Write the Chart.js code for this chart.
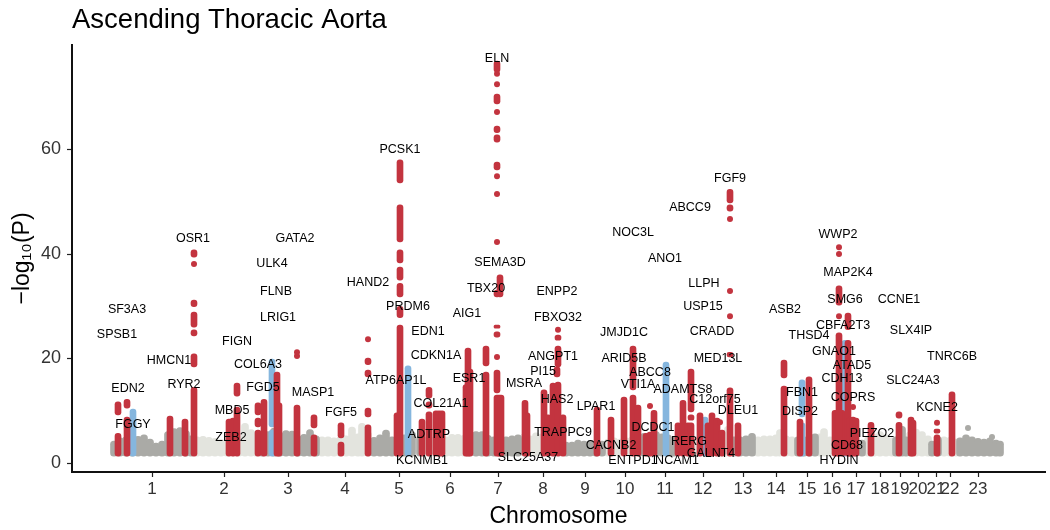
<!DOCTYPE html>
<html><head><meta charset="utf-8">
<style>html,body{margin:0;padding:0;background:#fff}canvas{display:block}</style>
<script src="https://cdn.jsdelivr.net/npm/chart.js@4"></script>
</head><body><canvas id="c" width="1050" height="530"></canvas>
<script>
const chromosomeNames = ['1','2','3','4','5','6','7','8','9','10','11','12','13','14','15','16','17','18','19','20','21','22','23'];
const chromosomeTicks = [152,224,288,345,399,450,498,543,585,625,665,703,743,776,807,832,856,880,900,918,936,950,978];
const yTickValues = [0,20,40,60];
const baseValue = 1.3;

// [genome position, top of the non-significant cloud] per chromosome
const darkCloud = [
 [114,4.2],[120,4.8],[126,5],[132,4.9],[138,5.1],[144,5.4],[150,4.6],[156,3.8],[162,4.2],[168,6],[174,6.6],[180,6.8],[186,6.2],[191,5.2],
 [262,5.5],[268,6],[274,6.7],[280,5.8],[286,6.2],[292,6.1],[298,5.2],[304,5.5],[310,6.4],[316,5.2],
 [374,4.9],[380,5.4],[386,6.3],[392,5],[398,5.2],[404,5.4],[412,6],[420,5.2],
 [476,6],[482,6],[488,5.3],[494,5],[500,5],[506,5],[512,5.2],[518,5.4],
 [566,4],[572,4],[578,4.4],[584,4.2],[590,4.3],[596,4.2],[602,4.2],
 [644,5.7],[650,5.8],[656,6],[662,5.6],[668,5.4],[674,5],
 [734,5],[740,5],[746,5.2],[752,5.7],
 [798,5],[804,5],[810,5.4],[815,5.6],
 [850,4.2],[856,4.2],[862,4.4],
 [896,5],[902,7],[906,5],
 [932,4.2],[938,5],
 [960,4.8],[966,5.4],[972,5],[978,4.7],[984,4.6],[990,4.8],[996,4.4],[1000,4.2]
];
const paleCloud = [
 [197,5],[203,5.1],[209,4.9],[215,4.7],[221,4.5],[227,4.6],[233,5],[239,5.3],[245,7.6],[251,6.4],[256,6],
 [322,5],[328,5],[334,4.8],[340,5],[346,5.2],[352,6.9],[358,5.6],[362,7.6],[368,6],
 [428,5],[434,4.9],[440,4.9],[446,5],[452,5.5],[458,5.5],[464,5.3],[470,5],
 [524,5.6],[530,5.2],[536,5.8],[542,5.6],[548,5.5],[554,6],[560,5.5],
 [608,4.6],[614,4.8],[620,4.6],[626,4.8],[632,5],[638,5],
 [680,5],[686,5],[692,5],[698,5],[704,5],[710,5],[716,5],[722,5.8],[728,7],
 [758,5],[764,5.2],[770,5.2],[776,5.4],[780,6.4],[786,5.2],[792,5],
 [820,5.6],[824,6.6],[830,5],
 [868,5],[874,5.6],[880,6],[886,5.4],[892,4.8],
 [910,6],[916,6.5],[922,6],[928,5.2],
 [944,5],[950,4.9],[956,4.6]
];
const darkDots = [[968,6.7],[992,5]];

// [position, low, high] runs of significant variants
const blueRuns = [
 [133,1.3,10.3],[272,1.3,6.3],[272,6.9,19.9],[408,1.3,18.6],[666,1.3,19.3],[705,1.3,8.8],
 [802,1.3,7.7],[802,8.8,15.9],[845,1.3,23.5]
];
const redRuns = [
 [118,1.3,5.7],[118,9.2,11.7],[127,1.3,8.8],[127,10.5,12.2],[170,1.3,9],[185,1.3,8.4],
 [194,1.3,14.5],[194,18.4,20.9],[194,24.3,25.5],[194,26,28.9],[194,29.9,31.2],[194,39.4,40.8],
 [229,1.3,8.4],[233,1.3,8.6],[237,1.3,10.7],[237,12.8,15.3],
 [258,1.3,6.3],[258,6.9,8.6],[258,9.2,11.5],[264,1.3,12.2],[277,1.3,17.4],[279,1.3,11.5],
 [297,1.3,11.1],[314,6.7,9.2],[314,1.3,5.4],[341,4.8,7.7],[341,1.3,4],
 [368,1.3,7.3],[368,8.8,10.5],[368,16.5,17.8],[368,18.8,20.1],
 [397,1.3,9.6],[400,1.3,26.4],[400,27.8,30],[400,31.8,34.4],[400,35,37.5],[400,38.3,40.8],[400,42.3,49.4],[400,53.6,58],
 [422,1.3,8.4],[429,1.3,9.8],[429,10.5,11.7],[429,12.4,14.5],[436,1.3,10],[439,1.3,10],[442,1.3,10],
 [466,1.3,15],[468,1.3,22],[470,1.3,18],[486,1.3,17.4],[486,18.6,22.4],
 [497,1.3,13],[497,13.4,17.8],[497,24.1,25.1],[497,25.8,26.4],[497,31.8,33.1],[497,56.1,57.6],[497,61.4,62.8],[497,63.2,64.5],[497,68.7,70.6],[497,74.8,76.9],
 [499,1.3,13],[501,1.3,13],[500,31.8,36],
 [525,1.3,12],[527,1.3,9.6],[544,1.3,14],[548,1.3,9.2],[553,1.3,15.3],[558,1.3,15.5],[557,16.5,18.4],[558,18.4,22.4],[558,23.5,24.5],[563,1.3,9.2],
 [597,1.3,10.7],[611,1.3,8.8],[624,1.3,12.6],[633,1.3,13],[633,14,22.4],[638,1.3,11.1],
 [646,1.3,5.7],[650,1.3,5.9],[654,1.3,10.1],[678,1.3,7.7],[683,1.3,12],[688,1.3,7.7],
 [691,1.3,7.7],[691,8.2,9.2],[691,9.8,18],[700,1.3,9.6],[708,1.3,7.7],[712,1.3,9.6],[717,1.3,8.6],[722,1.3,6.3],
 [730,1.3,14.4],[730,20.3,21.2],[730,49.8,52.4],[730,48.2,49.4],[738,1.3,7.7],
 [784,1.3,14.7],[784,16.3,19.7],[800,1.3,8.4],[809,1.3,16.5],
 [835,1.3,10.1],[838,1.3,10.1],[842,1.3,10.1],[839,1.3,24.9],[839,30.2,33.9],
 [848,1.3,23.5],[848,25.5,28.7],[850,1.3,8.8],[853,1.3,8.8],[856,1.3,8.6],
 [871,1.3,7.8],[899,1.3,7.8],[899,8.6,9.8],[911,1.3,8.8],[913,1.3,8.2],
 [937,1.3,5.4],[937,5.7,6.5],[952,1.3,13.6]
];
const redDots = [
 [194,38.1],[297,20.5],[297,21.2],[368,23.7],
 [497,74.5],[497,72.5],[497,67.2],[497,54.9],[497,51.5],[497,42.3],[497,20.3],
 [558,25.5],[650,10.9],[720,7.8],[730,28.1],[730,32.9],[730,46.7],
 [839,28.1],[839,40],[839,41.3],[853,10.7],[937,7.7]
];

// [gene, position, height]
const geneLabels = [
 ['ELN',497,77.5],['PCSK1',400,59.9],['FGF9',730,54.4],['ABCC9',690,48.8],['NOC3L',633,44.2],['OSR1',193,42.9],['GATA2',295,42.9],
 ['WWP2',838,43.8],['ULK4',272,38.1],['ANO1',665,39.2],['SEMA3D',500,38.3],['MAP2K4',848,36.4],['HAND2',368,34.6],['FLNB',276,32.9],
 ['TBX20',486,33.3],['ENPP2',557,32.9],['LLPH',704,34.3],['CCNE1',899,31.2],['SF3A3',127,29.3],['USP15',703,29.9],['AIG1',467,28.7],
 ['PRDM6',408,29.9],['SMG6',845,31.2],['ASB2',785,29.3],['SPSB1',117,24.5],['LRIG1',278,27.9],['CBFA2T3',843,26.4],['EDN1',428,25.1],
 ['FBXO32',558,27.9],['JMJD1C',624,24.9],['CRADD',712,25.1],['SLX4IP',911,25.3],['THSD4',809,24.3],['FIGN',237,23.3],['CDKN1A',436,20.5],
 ['ANGPT1',553,20.3],['ARID5B',624,19.9],['MED13L',718,19.9],['GNAO1',834,21.4],['TNRC6B',952,20.3],['HMCN1',169,19.7],['COL6A3',258,18.8],
 ['ABCC8',650,17.4],['PI15',543,17.6],['ATAD5',852,18.6],['MSRA',524,15.3],['ATP6AP1L',396,15.7],['ESR1',469,16.1],['VTI1A',638,15.1],
 ['CDH13',842,16.1],['SLC24A3',913,15.7],['EDN2',128,14.2],['RYR2',184,15.1],['FGD5',263,14.4],['MASP1',313,13.4],['ADAMTS8',683,14],
 ['C12orf75',715,12.2],['HAS2',557,12.1],['COL21A1',441,11.3],['LPAR1',596,10.9],['FBN1',802,13.4],['COPRS',853,12.6],['KCNE2',937,10.7],
 ['DISP2',800,9.8],['DLEU1',738,10.1],['MBD5',232,10],['FGF5',341,9.6],['FGGY',133,7.3],['DCDC1',653,6.7],['TRAPPC9',563,5.9],
 ['PIEZO2',872,5.7],['ADTRP',429,5.4],['ZEB2',231,4.8],['RERG',689,4.2],['CACNB2',611,3.3],['CD68',847,3.3],['GALNT4',711,1.9],
 ['SLC25A37',528,1],['KCNMB1',422,0.4],['ENTPD1',633,0.4],['NCAM1',677,0.4],['HYDIN',839,0.4]
];

const RED='#c3343f', BLUE='#85b6de', DARK='#aaaaa6', PALE='#e3e4de', FONT='"Liberation Sans", Arial, sans-serif';
const toBars = rows => rows.map(r => r.length===2 ? ({x:r[0],y:[baseValue,r[1]]}) : ({x:r[0],y:[r[1],r[2]]}));
const toDots = rows => rows.map(r => ({x:r[0],y:r[1]}));
const barDs = (rows,color,width,order) => ({type:'bar',data:toBars(rows),backgroundColor:color,barThickness:width,grouped:false,borderSkipped:false,borderRadius:width/2,borderWidth:0,order});
const dotDs = (rows,color,order) => ({type:'scatter',data:toDots(rows),backgroundColor:color,borderWidth:0,pointRadius:3,pointHoverRadius:3,showLine:false,order});

const labelPlugin = {
  id:'geneLabels',
  afterDatasetsDraw(chart){
    const {ctx,scales:{x,y}} = chart;
    ctx.save();
    ctx.font='12.5px '+FONT; ctx.fillStyle='#000'; ctx.textAlign='center'; ctx.textBaseline='middle';
    geneLabels.forEach(([g,px,py])=>ctx.fillText(g,x.getPixelForValue(px),y.getPixelForValue(py)));
    ctx.restore();
  }
};

new Chart(document.getElementById('c'),{
  type:'bar',
  data:{datasets:[
    barDs(paleCloud,PALE,7,6),
    barDs(darkCloud,DARK,7,5),
    dotDs(darkDots,DARK,4),
    barDs(blueRuns,BLUE,6,3),
    barDs(redRuns,RED,6,2),
    dotDs(redDots,RED,1)
  ]},
  options:{
    responsive:false,animation:false,
    layout:{padding:{left:0,right:5,top:0,bottom:0}},
    plugins:{
      legend:{display:false},tooltip:{enabled:false},
      title:{display:true,text:'Ascending Thoracic Aorta',align:'start',fullSize:false,color:'#000',
        font:{family:FONT,size:27.5,weight:'normal',lineHeight:1.2},padding:{top:4,bottom:8}}
    },
    scales:{
      x:{type:'linear',offset:false,min:72,max:1045,
        border:{display:true,color:'#111',width:2},
        grid:{display:true,offset:false,drawOnChartArea:false,drawTicks:true,tickLength:5,tickWidth:1.2,tickColor:'#222'},
        afterBuildTicks(s){s.ticks=chromosomeTicks.map(v=>({value:v}));},
        afterFit(s){s.height=58;},
        ticks:{autoSkip:false,maxRotation:0,minRotation:0,padding:2,color:'#333',font:{family:FONT,size:17},
          callback(v){const i=chromosomeTicks.indexOf(v);return i<0?'':chromosomeNames[i];}},
        title:{display:true,text:'Chromosome',color:'#000',font:{family:FONT,size:23},padding:{top:0,bottom:0}}
      },
      y:{type:'linear',min:-1.72,max:80,
        border:{display:true,color:'#111',width:2},
        grid:{display:true,drawOnChartArea:false,drawTicks:true,tickLength:5,tickWidth:1.2,tickColor:'#222'},
        afterBuildTicks(s){s.ticks=yTickValues.map(v=>({value:v}));},
        afterFit(s){s.width=72;},
        ticks:{padding:6,color:'#333',font:{family:FONT,size:18}},
        title:{display:true,text:'−log₁₀(P)',color:'#000',font:{family:FONT,size:23},padding:{top:9,bottom:0}}
      }
    }
  },
  plugins:[labelPlugin]
});
</script></body></html>
